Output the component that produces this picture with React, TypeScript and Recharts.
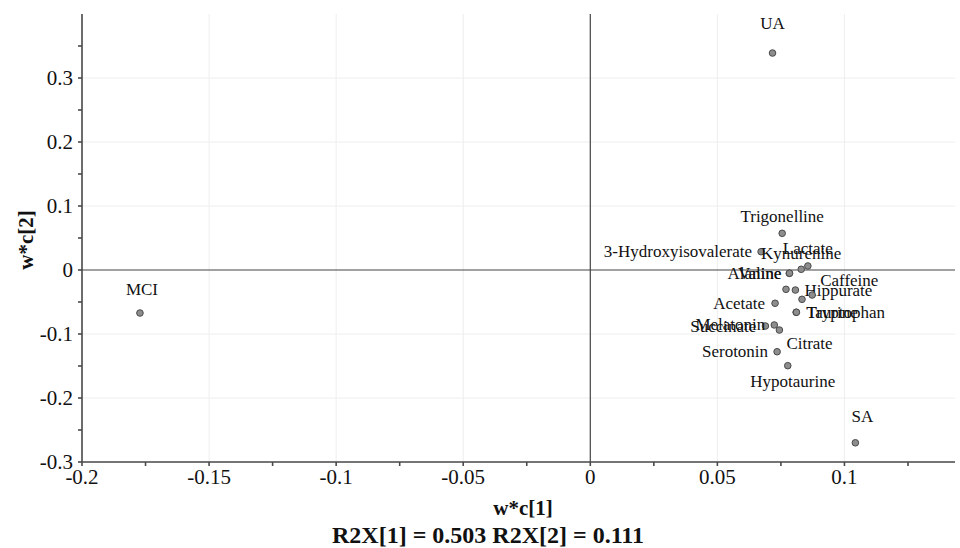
import React from "react";
import { ScatterChart, Scatter, XAxis, YAxis, CartesianGrid, ReferenceLine } from "recharts";

// ---- data ----
const names = [
  "UA", "MCI", "SA", "Trigonelline", "3-Hydroxyisovalerate", "Kynurenine", "Lactate",
  "Alanine", "Valine", "", "Hippurate", "", "Caffeine", "Acetate", "Taurine", "Tryptophan",
  "Succinate", "Melatonin", "Citrate", "Serotonin", "Hypotaurine",
];
const wc1 = [
  0.0717, -0.1772, 0.1043, 0.0755, 0.0672, 0.083, 0.0856,
  0.0783, 0.0784, 0.077, 0.0807, 0.0833, 0.0873, 0.0727, 0.081, 0.0811,
  0.0689, 0.0724, 0.0744, 0.0735, 0.0777,
];
const wc2 = [
  0.339, -0.0672, -0.27, 0.0573, 0.0286, 0.0011, 0.0063,
  -0.0052, -0.005, -0.0302, -0.0313, -0.0458, -0.0391, -0.052, -0.0661, -0.066,
  -0.0875, -0.0859, -0.0938, -0.1277, -0.1495,
];

const xMajorTicks = [-0.2, -0.15, -0.1, -0.05, 0, 0.05, 0.1];
const xTickLabels = ["-0.2", "-0.15", "-0.1", "-0.05", "0", "0.05", "0.1"];
const xMinorTicks = [-0.175, -0.125, -0.075, -0.025, 0.025, 0.075, 0.125];
const yMajorTicks = [-0.3, -0.2, -0.1, 0, 0.1, 0.2, 0.3];
const yTickLabels = ["-0.3", "-0.2", "-0.1", "0", "0.1", "0.2", "0.3"];
const yMinorTicks = [-0.25, -0.15, -0.05, 0.05, 0.15, 0.25, 0.35];

const xTitle = "w*c[1]";
const yTitle = "w*c[2]";
const subTitle = "R2X[1] = 0.503 R2X[2] = 0.111";

// label placement (style, not data)
type Place = { anchor: "start" | "middle" | "end"; dx: number; dy: number };
const labelPlacement: Record<string, Place> = {
  UA: { anchor: "middle", dx: 0, dy: -30 },
  MCI: { anchor: "middle", dx: 2, dy: -24 },
  SA: { anchor: "middle", dx: 7, dy: -26 },
  Trigonelline: { anchor: "middle", dx: 0, dy: -17 },
  "3-Hydroxyisovalerate": { anchor: "end", dx: -9, dy: 0 },
  Kynurenine: { anchor: "middle", dx: 0, dy: -16 },
  Lactate: { anchor: "middle", dx: 0, dy: -17 },
  Alanine: { anchor: "end", dx: -8, dy: 0 },
  Valine: { anchor: "end", dx: -8, dy: 0 },
  Hippurate: { anchor: "start", dx: 9, dy: 0 },
  Caffeine: { anchor: "start", dx: 8, dy: -15 },
  Acetate: { anchor: "end", dx: -10, dy: 0 },
  Taurine: { anchor: "start", dx: 10, dy: 0 },
  Tryptophan: { anchor: "start", dx: 10, dy: 0 },
  Succinate: { anchor: "end", dx: -9, dy: 0 },
  Melatonin: { anchor: "end", dx: -9, dy: 0 },
  Citrate: { anchor: "start", dx: 7, dy: 13 },
  Serotonin: { anchor: "end", dx: -9, dy: 0 },
  Hypotaurine: { anchor: "middle", dx: 5, dy: 16 },
};

const points = names.map((name, i) => ({ name, x: wc1[i], y: wc2[i] }));

const FONT = '"Liberation Serif", "Times New Roman", serif';

const near = (a: number, b: number) => Math.abs(a - b) < 1e-6;
const fmt = (majors: number[], labels: string[]) => (v: number) => {
  const i = majors.findIndex((m) => near(m, v));
  return i >= 0 ? labels[i] : "";
};

const PointShape = (props: any) => {
  const { cx, cy, payload } = props;
  if (cx == null || cy == null) return null;
  const p = labelPlacement[payload.name];
  return (
    <g>
      <circle cx={cx} cy={cy} r={3.3} fill="#8d8d8d" stroke="#4a4a4a" strokeWidth={1} />
      {payload.name && p ? (
        <text
          x={cx + p.dx}
          y={cy + p.dy}
          textAnchor={p.anchor}
          dominantBaseline="central"
          fontFamily={FONT}
          fontSize={17}
          fill="#111"
        >
          {payload.name}
        </text>
      ) : null}
    </g>
  );
};

export default function App() {
  const xTicks = [...xMajorTicks, ...xMinorTicks].sort((a, b) => a - b);
  const yTicks = [...yMajorTicks, ...yMinorTicks].sort((a, b) => a - b);
  const titleStyle: React.CSSProperties = {
    position: "absolute",
    fontWeight: "bold",
    whiteSpace: "nowrap",
    color: "#111",
    lineHeight: 1,
  };
  return (
    <div style={{ position: "absolute", left: 0, top: 0, width: 960, height: 548, background: "#fff", fontFamily: FONT }}>
      <ScatterChart width={960} height={548} margin={{ top: 14, right: 5, bottom: 46, left: 0 }}>
        <CartesianGrid
          stroke="#eeeeee"
          horizontalValues={yMajorTicks.filter((v) => v !== 0)}
          verticalValues={xMajorTicks.filter((v) => v !== 0)}
        />
        <XAxis
          type="number"
          dataKey="x"
          domain={[-0.2, 0.1435]}
          ticks={xTicks}
          tickFormatter={fmt(xMajorTicks, xTickLabels)}
          interval={0}
          height={40}
          allowDataOverflow
          stroke="#4a4a4a"
          strokeWidth={1.6}
          tickSize={4}
          tickMargin={3}
          tick={{ fill: "#111", fontSize: 21, fontFamily: FONT }}
        />
        <YAxis
          type="number"
          dataKey="y"
          domain={[-0.3, 0.4]}
          ticks={yTicks}
          tickFormatter={fmt(yMajorTicks, yTickLabels)}
          interval={0}
          width={82}
          allowDataOverflow
          stroke="#4a4a4a"
          strokeWidth={1.6}
          tickSize={4}
          tickMargin={5}
          tick={{ fill: "#111", fontSize: 21, fontFamily: FONT }}
        />
        <ReferenceLine x={0} stroke="#444" strokeWidth={1.2} />
        <ReferenceLine y={0} stroke="#444" strokeWidth={1.2} />
        <Scatter data={points} shape={<PointShape />} isAnimationActive={false} />
      </ScatterChart>
      <div style={{ ...titleStyle, left: 523, top: 508, fontSize: 21, transform: "translate(-50%, -50%)" }}>
        {xTitle}
      </div>
      <div style={{ ...titleStyle, left: 488, top: 535, fontSize: 24, transform: "translate(-50%, -50%)" }}>
        {subTitle}
      </div>
      <div
        style={{ ...titleStyle, left: 26, top: 240, fontSize: 21, transform: "translate(-50%, -50%) rotate(-90deg)" }}
      >
        {yTitle}
      </div>
    </div>
  );
}
